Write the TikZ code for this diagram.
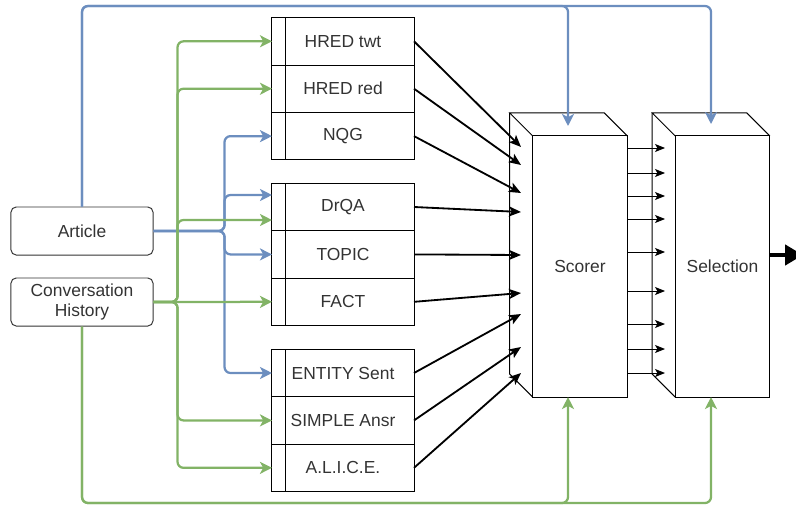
\documentclass[tikz,border=0pt]{standalone}
\usepackage{fontspec}
\setmainfont{Liberation Sans}
\usetikzlibrary{arrows.meta,positioning}

\definecolor{edgeblue}{HTML}{6C8EBF}
\definecolor{edgegreen}{HTML}{82B366}
\definecolor{txt}{HTML}{333333}

\begin{document}
\begin{tikzpicture}[x=0.025cm, y=-0.025cm, font=\fontsize{12.4}{14.4}\selectfont, text=txt]
                \tikzset{model/.style={draw, minimum width=3.55cm, minimum height=1.185cm, inner sep=0pt, outer sep=0pt, line width=0.7pt}}
                \tikzset{source/.style={draw=txt, rounded corners=0.13cm, minimum width=3.55cm, minimum height=1.2cm, inner sep=0pt, align=center, line width=0.7pt}}
                \tikzset{block/.style={draw, minimum width=2.365cm, minimum height=6.525cm, inner sep=0pt, outer sep=0pt, line width=0.7pt}}
                \tikzset{bluearrow/.style={draw=edgeblue, line width=1.6pt, rounded corners=0.15cm, -{Stealth[length=0.3cm, width=0.3cm, inset=0.08cm]}}}
                \tikzset{greenarrow/.style={draw=edgegreen, line width=1.6pt, rounded corners=0.15cm, -{Stealth[length=0.3cm, width=0.3cm, inset=0.08cm]}}}
                \tikzset{score/.style={line width=1.3pt, -{Stealth[length=0.3cm, width=0.25cm, inset=0.07cm]}}}
                \tikzset{pass/.style={line width=0.7pt, -{Stealth[length=0.25cm, width=0.2cm, inset=0.06cm]}}}
                \useasboundingbox (0,0) rectangle (796,506);

                \node[source] (article) at (82,231) {Article};
                \node[source] (conv) at (82,302) {\raisebox{-0.07cm}{Conversation}\\\raisebox{-0.07cm}{History}};

                \node[model] (hredtwt) at (343,41.3) {HRED twt};
                \node[model, below=0pt of hredtwt] (hredred) {HRED red};
                \node[model, below=0pt of hredred] (nqg) {NQG};
                \node[model] (drqa) at (343,207) {DrQA};
                \node[model, below=0pt of drqa] (topic) {TOPIC};
                \node[model, below=0pt of topic] (fact) {FACT};
                \node[model] (entity) at (343,373) {ENTITY Sent};
                \node[model, below=0pt of entity] (simple) {SIMPLE Ansr};
                \node[model, below=0pt of simple] (alice) {A.L.I.C.E.};
                \foreach \m in {hredtwt,hredred,nqg,drqa,topic,fact,entity,simple,alice}
                  \draw[line width=0.7pt] ([shift={(14,0)}]\m.north west) -- ([shift={(14,0)}]\m.south west);

                \node[block] (scorer) at (580,266.5) {Scorer};
                \node[block] (selection) at (722.5,266.5) {Selection};
                \foreach \b in {scorer,selection}{
                  \draw[line width=0.7pt] (\b.north west) -- ([shift={(-23,-23)}]\b.north west)
                    -- ([shift={(-23,-23)}]\b.north east) -- (\b.north east);
                  \draw[line width=0.7pt] ([shift={(-23,-23)}]\b.north west) -- ([shift={(-23,-23)}]\b.south west) -- (\b.south west);
                }

                % article inputs
                \coordinate (top) at (0,6);
                \coordinate (sctop) at (568,126);
                \coordinate (setop) at (711,124);
                \draw[bluearrow] (article.north) |- (sctop |- top) -- (sctop);
                \draw[bluearrow] (article.north) |- (setop |- top) -- (setop);
                \draw[bluearrow] (article.east) -- ++(71,0) |- (nqg.west);
                \draw[bluearrow] (article.east) -- ++(71,0) |- ([yshift=0.3cm]drqa.west);
                \draw[bluearrow] (article.east) -- ++(71,0) |- (topic.west);
                \draw[bluearrow] (article.east) -- ++(71,0) |- (entity.west);

                % history inputs
                \coordinate (bottom) at (0,503);
                \draw[greenarrow] (conv.south) |- (sctop |- bottom) -- (scorer.south -| sctop);
                \draw[greenarrow] (conv.south) |- (setop |- bottom) -- (selection.south -| setop);
                \draw[greenarrow] (conv.east) -- ++(24,0) |- (hredtwt.west);
                \draw[greenarrow] (conv.east) -- ++(24,0) |- (hredred.west);
                \draw[greenarrow] (conv.east) -- ++(24,0) |- ([yshift=-0.325cm]drqa.west);
                \draw[greenarrow] (conv.east) -- (fact.west);
                \draw[greenarrow] (conv.east) -- ++(24,0) |- (simple.west);
                \draw[greenarrow] (conv.east) -- ++(24,0) |- (alice.west);

                % responses to scorer
                \foreach \m/\y in {hredtwt/147,hredred/165,nqg/193,drqa/212,topic/255,fact/293,entity/314,simple/347,alice/373}{
                  \coordinate (in-\m) at (521,\y);
                  \draw[score] (\m.east) -- (in-\m);
                }
                \foreach \y in {148,173,196,219,252,291,324,349,373}{
                  \coordinate (p) at (665,\y);
                  \draw[pass] (scorer.east |- p) -- (p);
                }

                \coordinate (out) at (803,255);
                \draw[line width=3.2pt, -{Triangle[length=0.45cm, width=0.5cm]}] (selection.east |- out) -- (out);
            \end{tikzpicture}
\end{document}
